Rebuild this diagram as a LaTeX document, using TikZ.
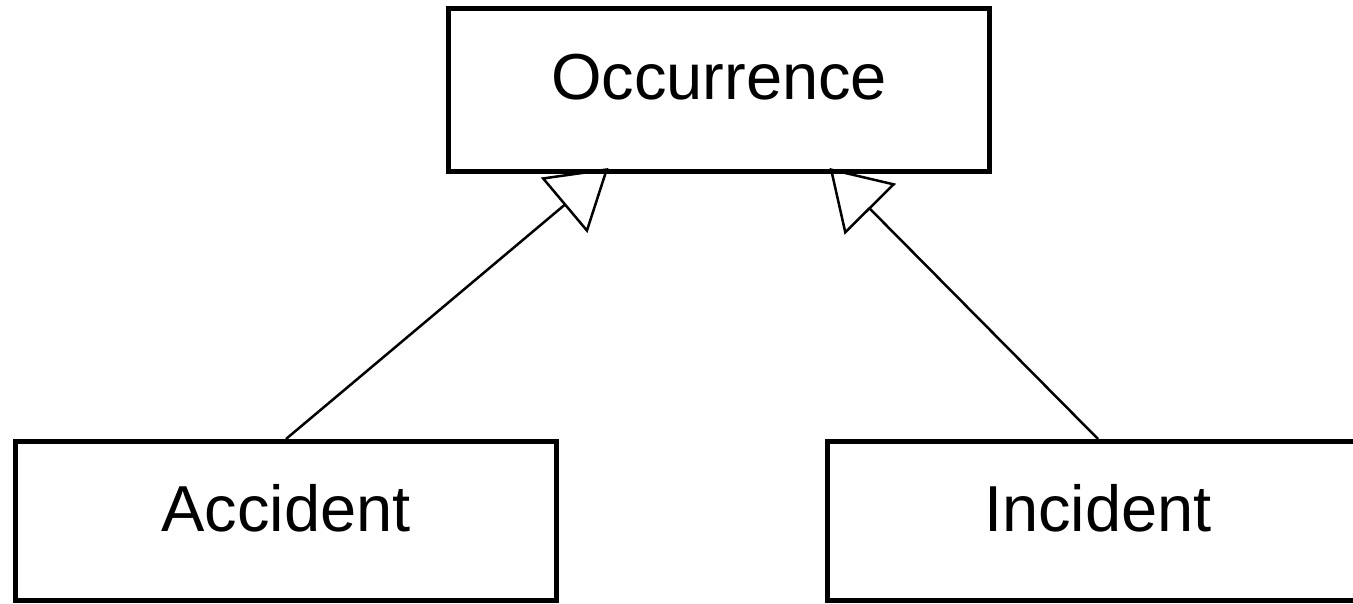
\documentclass[tikz,border=0pt]{standalone}
\usepackage{fontspec}
\setmainfont{Liberation Sans}
\usetikzlibrary{arrows.meta}

\tikzset{every picture/.style={line width=0.75pt}}
\tikzset{
  umlclass/.style={draw, line width=2.5pt, minimum width=270.5pt, inner sep=0pt,
    font=\fontsize{32.5}{39}\selectfont, text depth=13pt},
  inherit/.style={line width=1.25pt,
    -{Triangle[open, length=29pt, width=36pt, line width=1.25pt]}}
}

\begin{document}
\begin{tikzpicture}[x=0.5pt,y=0.5pt,yscale=-1,xscale=1]
%set diagram area: 1353 x 604
\useasboundingbox (0,0) rectangle (1353,604);

%Shape: Rectangle [occurrence]
\node [umlclass, minimum height=81.5pt] (occ) at (719,90) {Occurrence};
%Shape: Rectangle [accident]
\node [umlclass, minimum height=79.5pt] (acc) at (286,521) {Accident};
%Shape: Rectangle [incident]
\node [umlclass, minimum height=79.5pt] (inc) at (1098,521) {Incident};

%arrow ends on the bottom of occurrence (yscale=-1, so minus is up)
\coordinate (occl) at ([xshift=-55.25pt,yshift=-3pt]occ.south);
\coordinate (occr) at ([xshift=55.25pt,yshift=-3pt]occ.south);

%Straight Lines [generalisation]
\draw [inherit] (acc.north) -- (occl);
\draw [inherit] (inc.north) -- (occr);

\end{tikzpicture}
\end{document}
